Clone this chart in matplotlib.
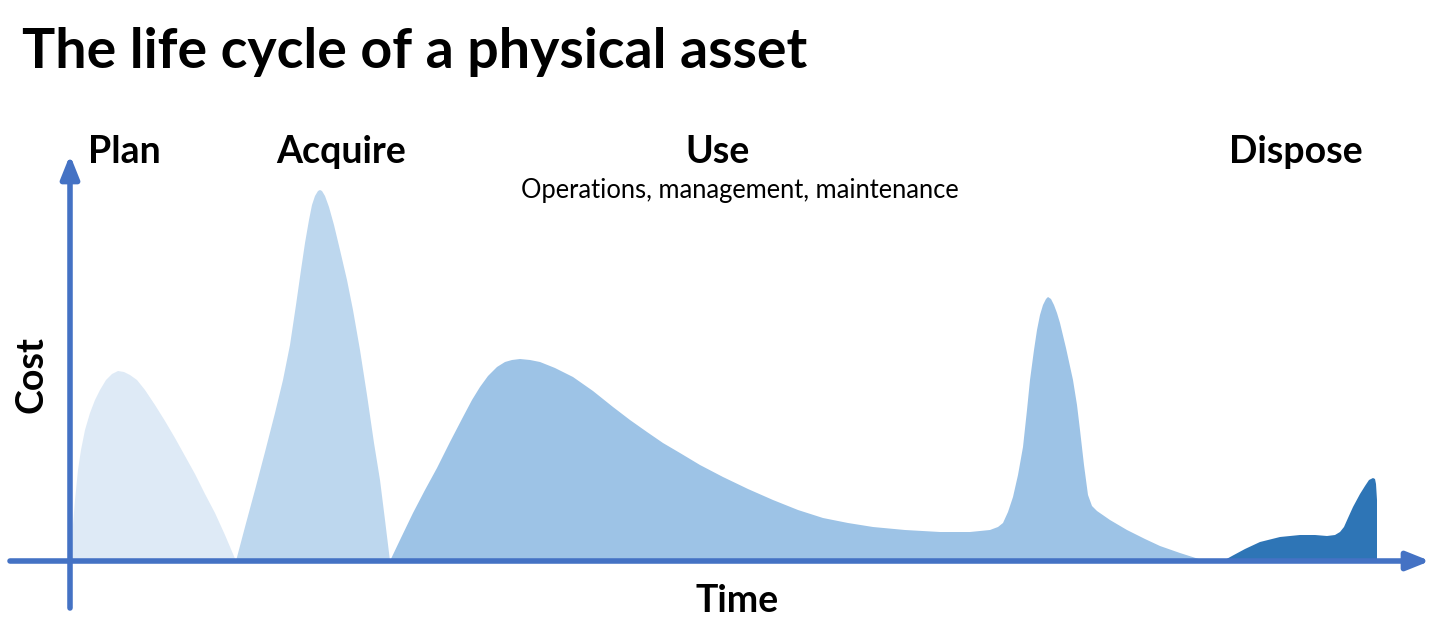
import matplotlib
matplotlib.use("Agg")
import matplotlib.pyplot as plt

# ---- data (time units from the origin, cost units above the baseline) ----
plan_t = [1, 2, 3, 5, 8, 11, 15, 20, 25, 30, 36, 42, 48, 54, 60, 67, 75, 85, 95, 105,
          115, 125, 135, 145, 155, 166]
plan_c = [0, 16, 36, 61, 91, 111, 131, 148, 161, 171, 181, 187, 190, 189, 186, 181, 171,
          156, 140, 123, 105, 87, 67, 48, 26, 0]

acq_t = [166, 175, 185, 195, 205, 213, 220, 226, 231, 235, 239, 242, 245, 248, 250, 252,
         255, 259, 264, 270, 277, 283, 290, 297, 304, 310, 315, 320]
acq_c = [0, 34, 71, 109, 148, 181, 216, 256, 291, 318, 341, 356, 365, 370, 371, 370,
         365, 354, 336, 311, 281, 251, 211, 166, 118, 81, 41, 0]

use_t = [320, 330, 343, 355, 367, 380, 393, 402, 410, 418, 427, 435, 442, 450, 460, 470,
         485, 503, 523, 543, 560, 577, 593, 610, 630, 653, 678, 703, 728, 753, 778, 803,
         835, 870, 900, 920, 928, 933, 938, 943, 948, 953, 957, 960, 964, 967, 970, 973,
         976, 978, 981, 984, 987, 990, 996, 1003, 1007, 1010, 1014, 1018, 1022, 1027,
         1040, 1057, 1075, 1090, 1110, 1135]
use_c = [0, 21, 48, 71, 93, 119, 144, 161, 174, 185, 194, 199, 201, 202, 201, 199,
         193, 184, 170, 154, 141, 129, 118, 108, 96, 84, 72, 61, 51, 43, 38, 34,
         31, 29, 29, 31, 34, 38, 49, 64, 86, 114, 151, 181, 211, 231, 246, 256,
         262, 264, 262, 256, 248, 238, 213, 181, 156, 131, 96, 66, 55, 50,
         41, 31, 22, 15, 8, 0]

disp_t = [1153, 1162, 1175, 1190, 1210, 1230, 1245, 1257, 1265, 1270, 1274, 1278, 1283,
          1290, 1295, 1299, 1303, 1305, 1306, 1307, 1307]
disp_c = [0, 5, 12, 19, 24, 26, 26, 25, 26, 29, 34, 43, 54, 67, 75, 81, 83, 82, 77, 61, 0]

phase_labels = ["Plan", "Acquire", "Use", "Dispose"]
use_subtitle = "Operations, management, maintenance"
title = "The life cycle of a physical asset"

colors = {"plan": "#DEEAF6", "acq": "#BDD7EE", "use": "#9DC3E6", "disp": "#2E75B6"}
axis_color = "#4472C4"

FONT = "Lato"

fig = plt.figure(figsize=(14.4, 6.34), dpi=100)
ax = fig.add_axes([0, 0, 1, 1])
ax.set_xlim(-70, 1370)
ax.set_ylim(-73, 561)
ax.axis("off")

ax.fill(plan_t, plan_c, color=colors["plan"], lw=0, zorder=1)
ax.fill(acq_t, acq_c, color=colors["acq"], lw=0, zorder=1)
ax.fill(use_t, use_c, color=colors["use"], lw=0, zorder=1)
ax.fill(disp_t, disp_c, color=colors["disp"], lw=0, zorder=1)

arrow = dict(arrowstyle="-|>,head_length=0.55,head_width=0.22", lw=4,
             color=axis_color, shrinkA=0, shrinkB=0, mutation_scale=25)
ax.annotate("", xy=(0, 406), xytext=(0, -47), arrowprops=arrow, zorder=3)
ax.annotate("", xy=(1360, 0), xytext=(-60, 0), arrowprops=arrow, zorder=3)

ax.text(-48, 493, title, fontsize=40, fontweight="bold", family=FONT,
        ha="left", va="baseline")
for lab, x in zip(phase_labels, [54, 271, 648, 1226]):
    ax.text(x, 398, lab, fontsize=27, fontweight="bold", family=FONT,
            ha="center", va="baseline")
ax.text(670, 363, use_subtitle, fontsize=18.4, family=FONT, ha="center", va="baseline")
ax.text(667, -51, "Time", fontsize=27, fontweight="bold", family=FONT,
        ha="center", va="baseline")
ax.text(-38, 186, "Cost", fontsize=27, fontweight="bold", family=FONT,
        ha="center", va="center", rotation=90)

fig.savefig("out.png", dpi=100)
